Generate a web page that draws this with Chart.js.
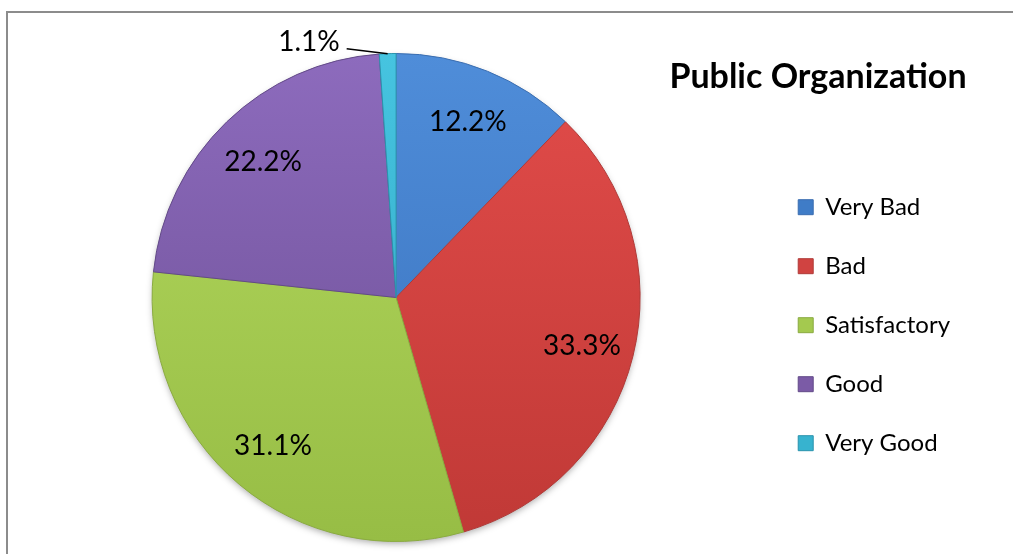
<!DOCTYPE html>
<html>
<head>
<meta charset="utf-8">
<script src="https://cdn.jsdelivr.net/npm/chart.js@4/dist/chart.umd.min.js"></script>
<style>
  html, body { margin: 0; padding: 0; background: #fff; }
  #wrap { position: relative; width: 1013px; height: 554px; overflow: hidden; }
  /* grey chart frame, cut off at the right and bottom */
  #frame { position: absolute; left: 6px; top: 11px; right: -10px; bottom: -10px;
           border-left: 2px solid #8c8c8c; border-top: 2px solid #8c8c8c; }
  #chart { position: absolute; left: 0; top: 0; }
</style>
</head>
<body>
<div id="wrap">
  <div id="frame"></div>
  <canvas id="chart" width="1013" height="554"></canvas>
</div>
<script>
const chartTitle = 'Public Organization';
const categories = ['Very Bad', 'Bad', 'Satisfactory', 'Good', 'Very Good'];
const shares = [12.2, 33.3, 31.1, 22.2, 1.1];

// slice shading: lighter at the top of the pie, darker at the bottom
const topColors = ['#4f8dd9', '#e24c4a', '#b3d85e', '#8d6bbd', '#46c4e0'];
const bottomColors = ['#3870bb', '#c03936', '#97bd45', '#6a4d92', '#2ea4c0'];
const flatColors = ['#3f7cc7', '#d04341', '#a4c94f', '#7b5ba6', '#37b3cf'];
const edgeColors = ['#3a6db0', '#b03a38', '#8aab40', '#634a88', '#2a93ad'];

const pieRadius = 244;

function sliceFill(ctx) {
  const i = ctx.dataIndex;
  const area = ctx.chart.chartArea;
  if (i === undefined) return flatColors[0];
  if (!area) return flatColors[i];
  const cy = (area.top + area.bottom) / 2;
  const g = ctx.chart.ctx.createLinearGradient(0, cy - pieRadius, 0, cy + pieRadius);
  g.addColorStop(0, topColors[i]);
  g.addColorStop(1, bottomColors[i]);
  return g;
}

// soft shadow under the whole pie
const pieShadow = {
  id: 'pieShadow',
  beforeDatasetsDraw(chart) {
    const arc = chart.getDatasetMeta(0).data[0];
    if (!arc) return;
    const {x, y, outerRadius} = arc.getProps(['x', 'y', 'outerRadius'], true);
    const ctx = chart.ctx;
    ctx.save();
    ctx.shadowColor = 'rgba(0,0,0,0.35)';
    ctx.shadowBlur = 7;
    ctx.shadowOffsetY = 3;
    ctx.fillStyle = '#fff';
    ctx.beginPath();
    ctx.arc(x, y, outerRadius - 1, 0, Math.PI * 2);
    ctx.fill();
    ctx.restore();
  }
};

// percentage labels; tiny slices get an outside label with a leader line
const sliceLabels = {
  id: 'sliceLabels',
  afterDatasetsDraw(chart) {
    const ctx = chart.ctx;
    const meta = chart.getDatasetMeta(0);
    ctx.save();
    ctx.font = '28px Lato';
    ctx.fillStyle = '#000';
    ctx.textBaseline = 'middle';
    meta.data.forEach((arc, i) => {
      const {x, y, startAngle, endAngle, outerRadius} =
        arc.getProps(['x', 'y', 'startAngle', 'endAngle', 'outerRadius'], true);
      const mid = (startAngle + endAngle) / 2;
      const text = shares[i].toFixed(1) + '%';
      if (shares[i] < 3) {
        const ex = x + Math.cos(mid) * outerRadius;
        const ey = y + Math.sin(mid) * outerRadius;
        const lx = ex - 41, ly = ey - 5;
        ctx.strokeStyle = '#000';
        ctx.lineWidth = 1.5;
        ctx.beginPath();
        ctx.moveTo(ex, ey);
        ctx.lineTo(lx, ly);
        ctx.stroke();
        ctx.textAlign = 'right';
        ctx.fillText(text, lx - 7, ly - 7);
      } else {
        const r = outerRadius * 0.785;
        ctx.textAlign = 'center';
        ctx.fillText(text, x + Math.cos(mid) * r, y + Math.sin(mid) * r + 2);
      }
    });
    ctx.restore();
  }
};

// heading sits over the legend column
const heading = {
  id: 'heading',
  afterDraw(chart) {
    const ctx = chart.ctx;
    ctx.save();
    ctx.font = 'bold 34px Lato';
    ctx.fillStyle = '#000';
    ctx.textAlign = 'center';
    ctx.textBaseline = 'middle';
    ctx.fillText(chartTitle, 818, 77);
    ctx.restore();
  }
};

new Chart(document.getElementById('chart'), {
  type: 'pie',
  data: {
    labels: categories,
    datasets: [{
      data: shares,
      backgroundColor: sliceFill,
      borderColor: edgeColors,
      borderWidth: 1
    }]
  },
  options: {
    responsive: false,
    animation: false,
    radius: pieRadius,
    layout: { padding: { left: 29, right: 53, top: 45, bottom: 4 } },
    plugins: {
      tooltip: { enabled: false },
      legend: {
        position: 'right',
        // empty title only reserves room so the column sits a bit lower
        title: { display: true, text: '', padding: { top: 0, bottom: 41 } },
        labels: {
          boxWidth: 15,
          boxHeight: 15,
          padding: 35,
          color: '#000',
          font: { family: 'Lato', size: 24 },
          generateLabels(chart) {
            const items = Chart.overrides.pie.plugins.legend.labels.generateLabels(chart);
            items.forEach(it => {
              it.fillStyle = flatColors[it.index];
              it.strokeStyle = edgeColors[it.index];
              it.lineWidth = 1;
            });
            return items;
          }
        }
      }
    }
  },
  plugins: [pieShadow, sliceLabels, heading]
});
</script>
</body>
</html>
